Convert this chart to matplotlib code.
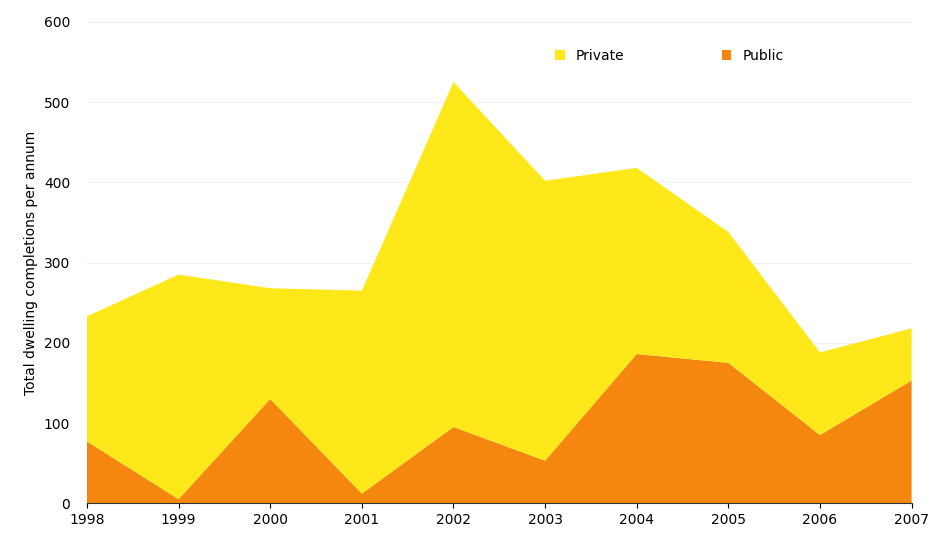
import numpy as np
import matplotlib.pyplot as plt

years = [1998, 1999, 2000, 2001, 2002, 2003, 2004, 2005, 2006, 2007]
public = [77, 5, 130, 12, 95, 53, 186, 175, 85, 153]
total = [233, 285, 268, 265, 525, 402, 418, 338, 188, 218]
private = [t - p for t, p in zip(total, public)]

fig, ax = plt.subplots(figsize=(9.35, 5.47), dpi=100)
fig.subplots_adjust(left=0.093, right=0.975, top=0.96, bottom=0.08)
ax.stackplot(years, public, private, colors=["#F5870F", "#FFE81A"], labels=["Public", "Private"])
ax.set_xlim(1998, 2007)
ax.set_ylim(0, 600)
ax.set_xticks(years)
ax.set_yticks(range(0, 601, 100))
ax.grid(axis="y", color="#f0f0f0", lw=0.8)
ax.set_axisbelow(True)
for s in ["top", "right", "left"]:
    ax.spines[s].set_visible(False)
ax.spines["bottom"].set_color("#333333")
ax.tick_params(axis="y", length=0, labelsize=10, pad=12)
ax.tick_params(axis="x", labelsize=10)
ax.set_ylabel("Total dwelling completions per annum", fontsize=10, labelpad=4)

h, l = ax.get_legend_handles_labels()
ax.legend(h[::-1], l[::-1], loc="upper right", bbox_to_anchor=(0.86, 0.97), ncol=2,
          frameon=False, handlelength=0.7, handleheight=0.7, columnspacing=7, fontsize=10)

fig.savefig("out.png")
